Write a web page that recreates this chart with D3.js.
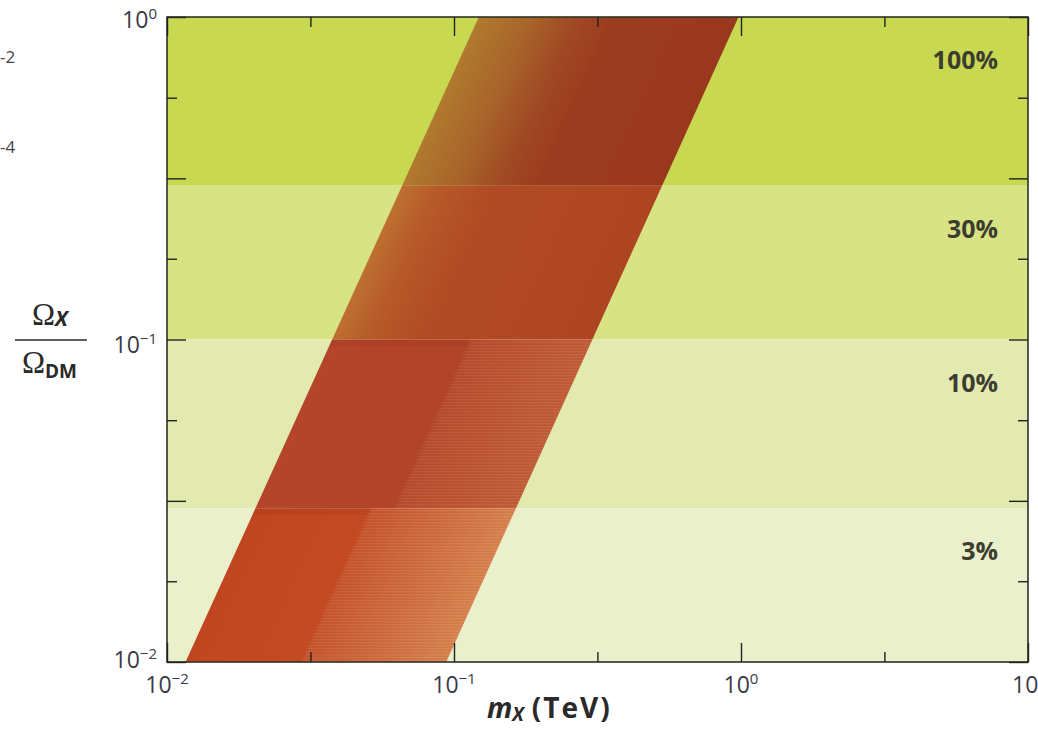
<!DOCTYPE html>
<html><head><meta charset="utf-8">
<script src="https://cdn.jsdelivr.net/npm/d3@7"></script>
<style>body{margin:0;background:#fff}svg{display:block}</style>
</head><body><svg id="c" width="1038" height="729"></svg>
<script>
// ---- data ----
const fractionLabels = ["100%", "30%", "10%", "3%"];
const fractionUpper = [1, 0.3, 0.1, 0.03];
const fractionLower = [0.3, 0.1, 0.03, 0.01];
const edgeOmega = [0.01, 1];          // Omega_X/Omega_DM at the two ends of the band
const edgeMassLow = [0.0116, 0.122];  // left edge of band (TeV)
const edgeMassHigh = [0.094, 0.98];   // right edge of band (TeV)
const xTickVals = [0.01, 0.1, 1, 10];
const xTickExp = ["\u22122", "\u22121", "0", ""];
const yTickVals = [1, 0.1, 0.01];
const yTickExp = ["0", "\u22121", "\u22122"];
const xMinorTicks = [0.0316, 0.316, 3.16];
const yMajorTicks = [1, 0.316, 0.1, 0.0316, 0.01];
const yMinorTicks = [0.562, 0.178, 0.0562, 0.0178];

// ---- styles ----
const bgColors = ["#c8d850", "#d8e383", "#e2eab0", "#ebf0cc"];
const bandStops = [
  [[0, "#b07a2e"], [0.2, "#a8642a"], [0.38, "#a04824"], [0.52, "#9c3c1f"], [1, "#9a381e"]],
  [[0, "#bd7032"], [0.14, "#b75a29"], [0.34, "#b14b24"], [1, "#ae4522"]],
  [[0, "#b4452a"], [0.53, "#b2442a"], [0.545, "#b74d2e"], [1, "#c15d38"]],
  [[0, "#c0461f"], [0.44, "#c34a22"], [0.455, "#c65630"], [1, "#d7824f"]]
];
const stripeFrom = [null, null, 0.53, 0.44];
const yLabelShift = [11, 13, 6];

const W = 1038, H = 729;
const m = {l: 167, t: 17, r: 1028, b: 662};
const svg = d3.select("#c");
svg.append("rect").attr("width", W).attr("height", H).attr("fill", "#fff");

const x = d3.scaleLog().domain([0.01, 10]).range([m.l, m.r]);
const y = d3.scaleLog().domain([0.01, 1]).range([m.b, m.t]);

const defs = svg.append("defs");
defs.append("clipPath").attr("id", "plotclip").append("rect")
  .attr("x", m.l).attr("y", m.t).attr("width", m.r - m.l).attr("height", m.b - m.t);
const pat = defs.append("pattern").attr("id", "hstripe").attr("patternUnits", "userSpaceOnUse")
  .attr("width", 6).attr("height", 3);
pat.append("rect").attr("width", 6).attr("height", 1).attr("fill", "rgba(255,225,200,0.07)");
pat.append("rect").attr("y", 2).attr("width", 6).attr("height", 1).attr("fill", "rgba(120,30,10,0.05)");

function edgeMass(masses, om) {
  const t = (Math.log(om) - Math.log(edgeOmega[0])) / (Math.log(edgeOmega[1]) - Math.log(edgeOmega[0]));
  return Math.exp(Math.log(masses[0]) + t * (Math.log(masses[1]) - Math.log(masses[0])));
}
function mixMass(f, om) {
  const a = Math.log(edgeMass(edgeMassLow, om)), b = Math.log(edgeMass(edgeMassHigh, om));
  return Math.exp((1 - f) * a + f * b);
}
function region(lo, hi, f0, f1) {
  return [[mixMass(f0, hi), hi], [mixMass(f1, hi), hi], [mixMass(f1, lo), lo], [mixMass(f0, lo), lo]]
    .map(p => [x(p[0]), y(p[1])]);
}

const L0 = [x(edgeMass(edgeMassLow, 0.01)), y(0.01)];
const L1 = [x(edgeMass(edgeMassLow, 1)), y(1)];
const R0 = [x(edgeMass(edgeMassHigh, 0.01)), y(0.01)];
let d = [L1[0] - L0[0], L1[1] - L0[1]];
const dl = Math.hypot(d[0], d[1]); d = [d[0] / dl, d[1] / dl];
const n = [-d[1], d[0]];
const wdt = (R0[0] - L0[0]) * n[0] + (R0[1] - L0[1]) * n[1];

bandStops.forEach((stops, i) => {
  const g = defs.append("linearGradient").attr("id", "bg" + i).attr("gradientUnits", "userSpaceOnUse")
    .attr("x1", L0[0]).attr("y1", L0[1]).attr("x2", L0[0] + wdt * n[0]).attr("y2", L0[1] + wdt * n[1]);
  stops.forEach(s => g.append("stop").attr("offset", s[0]).attr("stop-color", s[1]));
});

const plot = svg.append("g").attr("clip-path", "url(#plotclip)");

plot.selectAll("rect.band").data(fractionLabels).join("rect").attr("class", "band")
  .attr("x", m.l).attr("width", m.r - m.l)
  .attr("y", (d, i) => y(fractionUpper[i]))
  .attr("height", (d, i) => y(fractionLower[i]) - y(fractionUpper[i]))
  .attr("fill", (d, i) => bgColors[i]);

const line = d3.line();
plot.selectAll("path.mband").data(fractionLabels).join("path").attr("class", "mband")
  .attr("d", (d, i) => line(region(fractionLower[i], fractionUpper[i], 0, 1)) + "Z")
  .attr("fill", (d, i) => "url(#bg" + i + ")");

fractionLabels.forEach((lab, i) => {
  if (stripeFrom[i] == null) return;
  plot.append("path").attr("d", line(region(fractionLower[i], fractionUpper[i], stripeFrom[i], 1)) + "Z")
    .attr("fill", "url(#hstripe)");
  plot.append("path").attr("d", line(region(fractionLower[i] + (fractionUpper[i] - fractionLower[i]) * 0.93, fractionUpper[i], 0, stripeFrom[i])) + "Z")
    .attr("fill", "rgba(120,30,10,0.10)");
});

const tf = "Open Sans, sans-serif", tc = "#3a3a48";

svg.selectAll("text.flab").data(fractionLabels).join("text").attr("class", "flab")
  .attr("x", 998).attr("y", (d, i) => y(fractionUpper[i]) + 52)
  .attr("text-anchor", "end").attr("font-family", tf)
  .attr("font-weight", "bold").attr("font-size", 25).attr("fill", "#3c3c30").text(d => d);

svg.append("rect").attr("x", m.l).attr("y", m.t).attr("width", m.r - m.l).attr("height", m.b - m.t)
  .attr("fill", "none").attr("stroke", "#2e3323").attr("stroke-width", 1.6);

function ticks(axisGen, vals, size, tx, ty) {
  const g = svg.append("g").attr("transform", `translate(${tx},${ty})`)
    .call(axisGen.tickValues(vals).tickSize(size).tickFormat(""));
  g.select(".domain").remove();
  g.selectAll("line").attr("stroke", "#222").attr("stroke-width", 1.4);
}
ticks(d3.axisTop(x), xTickVals, 19, 0, m.b);
ticks(d3.axisTop(x), xMinorTicks, 10, 0, m.b);
ticks(d3.axisBottom(x), xTickVals, 19, 0, m.t);
ticks(d3.axisBottom(x), xMinorTicks, 10, 0, m.t);
ticks(d3.axisRight(y), yMajorTicks, 19, m.l, 0);
ticks(d3.axisRight(y), yMinorTicks, 10, m.l, 0);
ticks(d3.axisLeft(y), yMajorTicks, 19, m.r, 0);
ticks(d3.axisLeft(y), yMinorTicks, 10, m.r, 0);

xTickVals.forEach((v, i) => {
  const last = xTickExp[i] === "";
  const t = svg.append("text").attr("x", last ? x(v) - 16 : x(v)).attr("y", 693)
    .attr("text-anchor", last ? "start" : "middle")
    .attr("font-family", tf).attr("font-size", 23).attr("fill", tc);
  t.append("tspan").text("10");
  if (!last) t.append("tspan").attr("dy", -9).attr("font-size", 15).text(xTickExp[i]);
});
yTickVals.forEach((v, i) => {
  const t = svg.append("text").attr("x", 157).attr("y", y(v) + yLabelShift[i]).attr("text-anchor", "end")
    .attr("font-family", tf).attr("font-size", 23).attr("fill", tc);
  t.append("tspan").text("10");
  t.append("tspan").attr("dy", -9).attr("font-size", 15).text(yTickExp[i]);
});

// axis titles
const xt = svg.append("text").attr("x", 487).attr("y", 718).attr("font-family", tf)
  .attr("font-weight", "bold").attr("font-size", 28).attr("fill", "#2a2a2a");
xt.append("tspan").attr("font-style", "italic").text("m");
xt.append("tspan").attr("font-style", "italic").attr("font-size", 19).attr("dy", 3).text("X");
xt.append("tspan").attr("dy", -3).attr("dx", 8).attr("letter-spacing", 2).text("(TeV)");

const yt = svg.append("g");
const num = yt.append("text").attr("x", 32).attr("y", 325).attr("fill", "#2a2a2a");
num.append("tspan").attr("font-family", "Liberation Serif, serif").attr("font-size", 31).text("\u03A9");
num.append("tspan").attr("font-family", tf).attr("font-weight", "bold").attr("font-style", "italic")
  .attr("font-size", 21).attr("dy", 1).text("X");
yt.append("line").attr("x1", 15).attr("x2", 87).attr("y1", 340).attr("y2", 340)
  .attr("stroke", "#2a2a2a").attr("stroke-width", 1.6);
const den = yt.append("text").attr("x", 22).attr("y", 373).attr("fill", "#2a2a2a");
den.append("tspan").attr("font-family", "Liberation Serif, serif").attr("font-size", 31).text("\u03A9");
den.append("tspan").attr("font-family", tf).attr("font-weight", "bold")
  .attr("font-size", 19).attr("dy", 5).text("DM");

// cropped fragments from the neighbouring panel
svg.append("text").attr("x", 0).attr("y", 63).attr("font-family", tf).attr("font-size", 17).attr("fill", "#444").text("-2");
svg.append("text").attr("x", 0).attr("y", 153).attr("font-family", tf).attr("font-size", 17).attr("fill", "#444").text("-4");
</script>
</body></html>
